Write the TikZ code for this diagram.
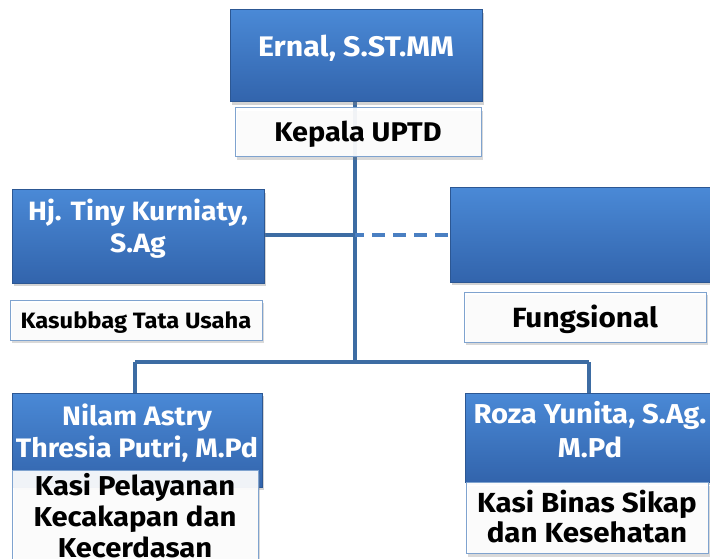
\documentclass[tikz,border=0pt]{standalone}
\usepackage{fontspec}
\setmainfont[FakeStretch=1.07]{Fira Sans}
\usetikzlibrary{shadows}
\definecolor{bluetop}{HTML}{4A89D6}
\definecolor{bluebot}{HTML}{3264AC}
\definecolor{blueedge}{HTML}{2C5793}
\definecolor{linec}{HTML}{3D6CA3}
\definecolor{dashc}{HTML}{4A7FC2}
\definecolor{whiteedge}{HTML}{7FA3CF}
\tikzset{
  namebox/.style={rectangle, draw=blueedge, line width=1pt, top color=bluetop, bottom color=bluebot,
    drop shadow={opacity=0.35, shadow xshift=2pt, shadow yshift=-3pt}},
  rolebox/.style={rectangle, draw=whiteedge, line width=1pt, fill=white, fill opacity=0.92,
    drop shadow={opacity=0.3, shadow xshift=2pt, shadow yshift=-3pt}},
  nametext/.style={anchor=base, inner sep=0pt, text=white},
  roletext/.style={anchor=base, inner sep=0pt, text=black},
  conn/.style={draw=linec, line width=4.5pt},
}
\newcommand{\fsz}[1]{\bfseries\fontsize{#1}{#1}\selectfont}
\begin{document}
\begin{tikzpicture}[x=1pt,y=-1pt]
\useasboundingbox (0,0) rectangle (710,559);
\clip (0,0) rectangle (710,559);
\coordinate (jL) at (355,235);
\coordinate (jB) at (355,362);
\coordinate (jBL) at (135,362);
\coordinate (jBR) at (589,362);
% connectors
\coordinate (topS) at (355,102);
\coordinate (leftE) at (264,235);
\coordinate (rightW) at (450,235);
\coordinate (nilamN) at (135,393);
\coordinate (rozaN) at (589,393);
\draw[conn] (topS) -- (jB);
\draw[conn] (leftE) -- (jL);
\draw[conn, draw=dashc, line width=4pt, dash pattern=on 13pt off 8pt, dash phase=4pt] (jL) -- (rightW);
\draw[conn] (jBL) -- (jBR);
\draw[conn] (jBL) -- (nilamN);
\draw[conn] (jBR) -- (rozaN);
% name boxes
\node[namebox, minimum width=252pt, minimum height=92pt] (top) at (356,56) {};
\node[namebox, minimum width=252pt, minimum height=93pt] (left) at (138,236.5) {};
\node[namebox, minimum width=262pt, minimum height=94pt] (right) at (581,235) {};
\node[namebox, minimum width=250pt, minimum height=94pt] (nilam) at (137,440) {};
\node[namebox, minimum width=247pt, minimum height=89pt] (roza) at (588.5,437.5) {};
\node[nametext, font=\fsz{28.3}] (t1) at (356,57) {Ernal, S.ST.MM};
\node[nametext, font=\fsz{26.5}] (t2a) at (138,220) {Hj. Tiny Kurniaty,};
\node[nametext, font=\fsz{26.5}] (t2b) at (138,252) {S.Ag};
\node[nametext, font=\fsz{26.7}] (t3a) at (137,425) {Nilam Astry};
\node[nametext, font=\fsz{26.7}] (t3b) at (137,457) {Thresia Putri, M.Pd};
\node[nametext, font=\fsz{27.3}] (t4a) at (590,423) {Roza Yunita, S.Ag.};
\node[nametext, font=\fsz{27.3}] (t4b) at (590,457) {M.Pd};
% role boxes
\node[rolebox, minimum width=246pt, minimum height=49pt] (kepala) at (358,132.5) {};
\node[rolebox, minimum width=252pt, minimum height=40pt] (kasub) at (136,320) {};
\node[rolebox, minimum width=242pt, minimum height=50pt] (fung) at (585,317) {};
\node[rolebox, minimum width=246pt, minimum height=105pt, anchor=north] (kasi1) at (135,470) {};
\node[rolebox, minimum width=242pt, minimum height=71pt, anchor=north] (kasi2) at (587,482) {};
\node[roletext, font=\fsz{27}] (r1) at (358,142) {Kepala UPTD};
\node[roletext, font=\fsz{22.2}] (r2) at (136,328) {Kasubbag Tata Usaha};
\node[roletext, font=\fsz{27.8}] (r3) at (585,327) {Fungsional};
\node[roletext, font=\fsz{27.3}] (r4a) at (135,495) {Kasi Pelayanan};
\node[roletext, font=\fsz{27.3}] (r4b) at (135,526) {Kecakapan dan};
\node[roletext, font=\fsz{27.3}] (r4c) at (135,557) {Kecerdasan};
\node[roletext, font=\fsz{27.6}] (r5a) at (587,512) {Kasi Binas Sikap};
\node[roletext, font=\fsz{27.6}] (r5b) at (587,542) {dan Kesehatan};
\end{tikzpicture}
\end{document}
